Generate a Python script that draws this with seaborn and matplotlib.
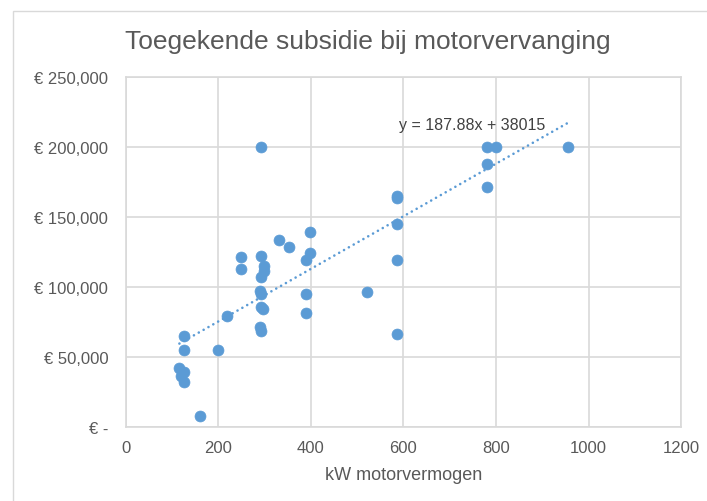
import numpy as np
import pandas as pd
import seaborn as sns
import matplotlib
matplotlib.use("Agg")
import matplotlib.pyplot as plt
from matplotlib.ticker import FuncFormatter, MultipleLocator
from matplotlib.patches import Rectangle

sns.set_theme(style="whitegrid")
plt.rcParams['font.family'] = ['Liberation Sans', 'DejaVu Sans']

# kW motorvermogen vs toegekende subsidie
kw = [116, 119, 126, 126, 126, 126, 160, 200, 219, 250,
      250, 293, 293, 299, 299, 293, 290, 293, 293, 297,
      290, 293, 331, 353, 399, 399, 389, 389, 389, 522,
      587, 587, 587, 587, 587, 780, 799, 955, 780, 780]
subsidie = [42400, 36900, 39300, 32600, 65000, 55400, 7900, 55400, 79700, 122000,
            113000, 200000, 122100, 115400, 111400, 107100, 97100, 95200, 86100, 84500,
            71400, 68600, 133800, 129000, 139300, 124300, 119500, 95200, 81600, 96600,
            165400, 163600, 145200, 119500, 66600, 200000, 200000, 200000, 188100, 171400]

# trendline as printed in the chart
slope = 187.88
intercept = 38015

df = pd.DataFrame({"kw": kw, "subsidie": subsidie})
trend_x = [min(kw), max(kw)]
trend = pd.DataFrame({"kw": trend_x, "subsidie": [slope * v + intercept for v in trend_x]})

blue = "#5B9BD5"
grey_txt = "#595959"
grid = "#D9D9D9"

fig = plt.figure(figsize=(7.07, 5.02), dpi=100)
fig.patches.append(Rectangle((13 / 707, -0.1), 1.2, 1 - 12 / 502 + 0.1, transform=fig.transFigure,
                             fill=False, edgecolor=grid, linewidth=1))
ax = fig.add_axes([125.7 / 707, 1 - 428.3 / 502, (681.3 - 125.7) / 707, (428.3 - 78.3) / 502])

sns.lineplot(data=trend, x="kw", y="subsidie", ax=ax, color=blue, linestyle=(0, (0.01, 2.1)),
             linewidth=1.9, dash_capstyle="round", zorder=2)
sns.scatterplot(data=df, x="kw", y="subsidie", ax=ax, color=blue, s=62, edgecolor=blue,
                linewidth=0.5, zorder=3)

ax.set_xlim(0, 1200)
ax.set_ylim(0, 250000)
ax.xaxis.set_major_locator(MultipleLocator(200))
ax.yaxis.set_major_locator(MultipleLocator(50000))
ax.yaxis.set_major_formatter(FuncFormatter(lambda v, p: "€ -" if v == 0 else "€ {:,.0f}".format(v)))

ax.grid(True, color=grid, linewidth=1.2)
for s in ax.spines.values():
    s.set_color(grid)
    s.set_linewidth(1.2)
ax.tick_params(axis="both", length=0, labelsize=12, labelcolor=grey_txt)
ax.tick_params(axis="y", pad=12.5)
ax.tick_params(axis="x", pad=9)

ax.set_xlabel("kW motorvermogen", fontsize=13, color=grey_txt, labelpad=8)
ax.set_ylabel("")
fig.text(368 / 707, 1 - 42 / 502, "Toegekende subsidie bij motorvervanging", fontsize=19,
         color=grey_txt, ha="center", va="center")

ax.text(748, 216000, "y = 187.88x + 38015", fontsize=11.5, color="#404040",
        ha="center", va="center")

fig.savefig("out.png", dpi=100)
